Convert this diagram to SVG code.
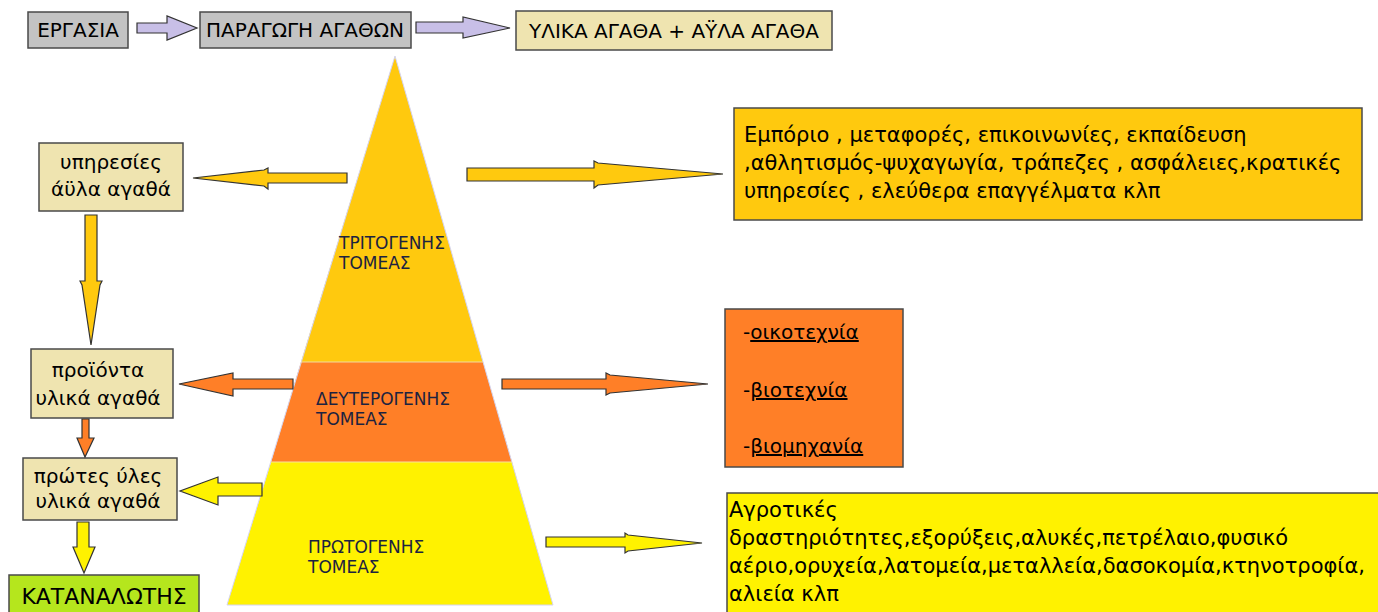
<svg xmlns="http://www.w3.org/2000/svg" width="1378" height="612" viewBox="0 0 1378 612">
<style>
text{font-family:"DejaVu Sans",Verdana,sans-serif;fill:#000}
.box{stroke:#4a4a4a;stroke-width:1.5}
.grey{fill:#c3c3c3}
.tan{fill:#efe4b0}
.arr{stroke:#333;stroke-width:1.2;stroke-linejoin:miter}
.lav{fill:#c8bfe7}
.gold{fill:#ffc90e}
.orange{fill:#ff7f27}
.yellow{fill:#fff200}
.green{fill:#b5e61d}
.t20{font-size:20px}
.t21{font-size:21px}
.mid{text-anchor:middle}
.py{font-size:17px;fill:#1c2340}
</style>
<rect width="1378" height="612" fill="#fff"/>

<g id="n-ergasia">
<rect class="box grey" x="28" y="12" width="100" height="36"/>
<text class="t20 mid" x="78" y="37">ΕΡΓΑΣΙΑ</text>
</g>
<g id="n-paragogi">
<rect class="box grey" x="200" y="12" width="211" height="36"/>
<text class="t20 mid" x="305" y="37">ΠΑΡΑΓΩΓΗ ΑΓΑΘΩΝ</text>
</g>
<g id="n-agatha">
<rect class="box tan" x="516" y="11" width="316" height="39"/>
<text class="t20 mid" x="674" y="38">ΥΛΙΚΑ ΑΓΑΘΑ + ΑΫΛΑ ΑΓΑΘΑ</text>
</g>

<g id="n-pyramid">
<polygon class="gold" points="395,56 483,362 301,362"/>
<polygon class="orange" points="301,362 483,362 512,462 271,462"/>
<polygon class="yellow" points="271,462 512,462 553,605 227,605"/>
<polyline points="227,605 395,56 553,605 227,605" fill="none" stroke="#d4d4f0" stroke-width="1"/>
<line x1="301" y1="362" x2="483" y2="362" stroke="#f0d8a0" stroke-width="1"/>
<line x1="271" y1="462" x2="512" y2="462" stroke="#f8e0a0" stroke-width="1"/>
<text class="py" x="339" y="249">ΤΡΙΤΟΓΕΝΗΣ</text>
<text class="py" x="339" y="269">ΤΟΜΕΑΣ</text>
<text class="py" x="316" y="405">ΔΕΥΤΕΡΟΓΕΝΗΣ</text>
<text class="py" x="316" y="425">ΤΟΜΕΑΣ</text>
<text class="py" x="308" y="553">ΠΡΩΤΟΓΕΝΗΣ</text>
<text class="py" x="308" y="573">ΤΟΜΕΑΣ</text>
</g>

<g id="n-ypiresies">
<rect class="box tan" x="39" y="143" width="144" height="68"/>
<text class="t20 mid" x="111" y="169">υπηρεσίες</text>
<text class="t20 mid" x="111" y="196">άϋλα αγαθά</text>
</g>
<g id="n-proionta">
<rect class="box tan" x="31" y="349" width="142" height="69"/>
<text class="t20 mid" x="98" y="377">προϊόντα</text>
<text class="t20 mid" x="98" y="405">υλικά αγαθά</text>
</g>
<g id="n-protes">
<rect class="box tan" x="23" y="458" width="154" height="62"/>
<text class="t20 mid" x="98" y="483">πρώτες ύλες</text>
<text class="t20 mid" x="98" y="508">υλικά αγαθά</text>
</g>
<g id="n-katanalotis">
<rect class="box green" x="9" y="575" width="190" height="45"/>
<text class="mid" font-size="22" x="104" y="604">ΚΑΤΑΝΑΛΩΤΗΣ</text>
</g>

<g id="n-tritogenis-info">
<rect class="box gold" x="734" y="108" width="628" height="112"/>
<text class="t21" x="744" y="142">Εμπόριο , μεταφορές, επικοινωνίες, εκπαίδευση</text>
<text class="t21" x="744" y="170">,αθλητισμός-ψυχαγωγία, τράπεζες , ασφάλειες,κρατικές</text>
<text class="t21" x="744" y="198">υπηρεσίες , ελεύθερα επαγγέλματα κλπ</text>
</g>
<g id="n-deuterogenis-info">
<rect class="box orange" x="725" y="309" width="178" height="158"/>
<text class="t20" x="743" y="339">-<tspan text-decoration="underline">οικοτεχνία</tspan></text>
<text class="t20" x="743" y="397">-<tspan text-decoration="underline">βιοτεχνία</tspan></text>
<text class="t20" x="743" y="453">-<tspan text-decoration="underline">βιομηχανία</tspan></text>
</g>
<g id="n-protogenis-info">
<rect class="box yellow" x="727" y="493" width="670" height="130"/>
<text class="t21" x="729" y="517">Αγροτικές</text>
<text class="t21" x="729" y="545">δραστηριότητες,εξορύξεις,αλυκές,πετρέλαιο,φυσικό</text>
<text class="t21" x="729" y="573">αέριο,ορυχεία,λατομεία,μεταλλεία,δασοκομία,κτηνοτροφία,</text>
<text class="t21" x="729" y="601">αλιεία κλπ</text>
</g>

<g id="connectors">
<polygon class="arr lav" points="137,23 167,23 167,16 197,28 167,40 167,33 137,33"/>
<polygon class="arr lav" points="416,22 463,22 463,17 510,28 463,38 463,33 416,33"/>
<polygon class="arr gold" points="347,173 268,173 268,168 264,170 193,178 264,186 268,189 268,183 347,183"/>
<polygon class="arr gold" points="467,168 594,168 594,161 598,163 723,174 598,185 594,188 594,181 467,181"/>
<polygon class="arr orange" points="293,379 233,379 233,373 179,384 233,396 233,389 293,389"/>
<polygon class="arr orange" points="502,379 606,379 606,373 610,375 708,384 610,393 606,395 606,389 502,389"/>
<polygon class="arr yellow" points="262,483 218,483 218,477 180,491 218,505 218,496 262,496"/>
<polygon class="arr yellow" points="546,537 625,537 625,533 628,535 702,543 628,551 625,553 625,547 546,547"/>
<polygon class="arr gold" points="85,215 97,215 97,281 102,281 100,285 91,345 82,285 80,281 85,281"/>
<polygon class="arr orange" points="82,419 89,419 89,438 94,438 85,457 77,438 82,438"/>
<polygon class="arr yellow" points="77,522 89,522 89,547 95,547 84,573 73,547 77,547"/>
</g>
</svg>
